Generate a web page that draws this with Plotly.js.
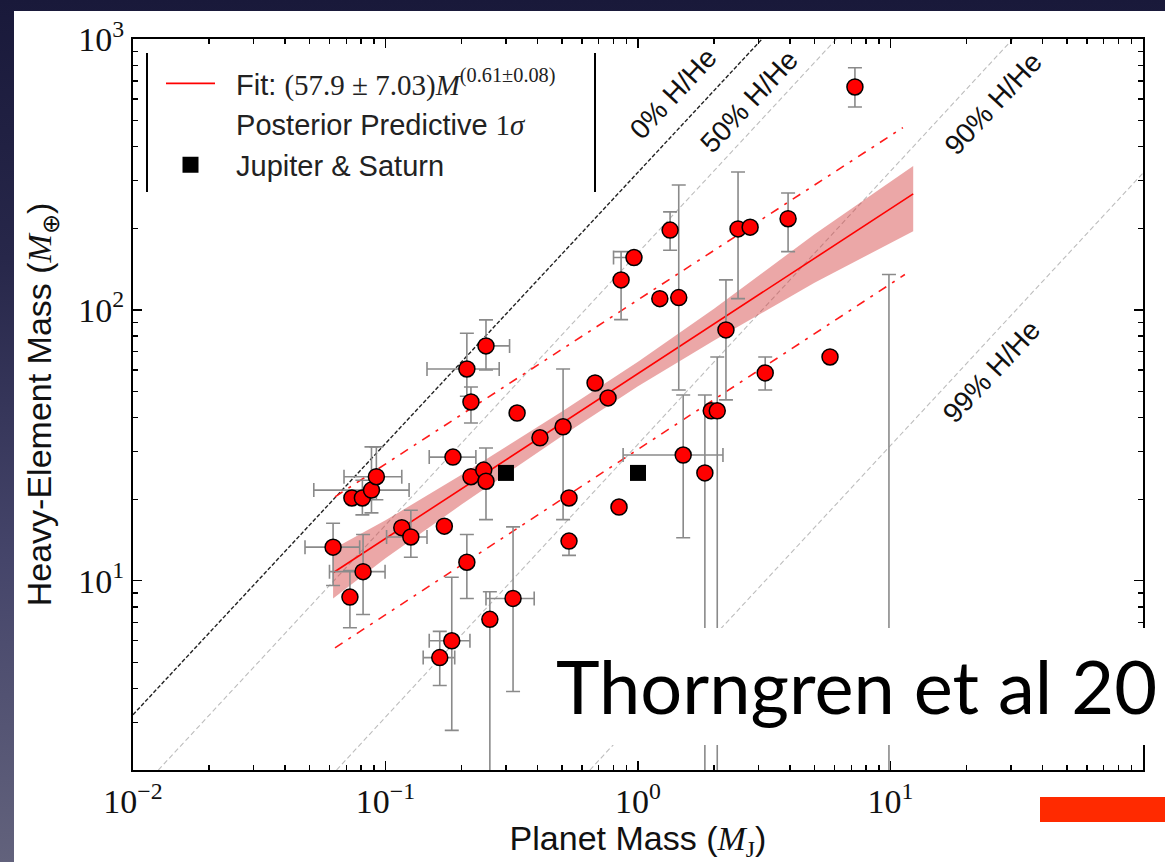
<!DOCTYPE html>
<html><head><meta charset="utf-8">
<script src="https://cdn.plot.ly/plotly-3.0.1.min.js"></script>
<style>
html,body{margin:0;padding:0;width:1165px;height:862px;overflow:hidden;
background:linear-gradient(180deg,#19193a 0%,#27274a 30%,#45456a 65%,#62627c 100%);}
#chart{width:1165px;height:862px;}
</style></head><body><div id="chart"></div>
<script>
// ---- reference lines (H/He fractions) ----
const h0X = [0.01, 3.1],    h0Y = [3.2, 1000];
const h50X = [0.0126, 6.1], h50Y = [2, 1000];
const h90X = [0.064, 30.5], h90Y = [2, 1000];
const h99X = [0.645, 100],  h99Y = [2, 320];
const hLabels = ['0% H/He', '50% H/He', '90% H/He', '99% H/He'];
const hLabelX = [1.38, 2.75, 25.5, 25.2];
const hLabelY = [630, 590, 580, 59];

// ---- fit and uncertainty band ----
const fitX = [0.062, 12.3], fitY = [10.7, 268];
const bandX  = [0.062, 0.1, 0.2, 0.5, 1, 2, 5, 12.3];
const bandHi = [13.1, 16.7, 24.6, 42.1, 64.3, 101, 190, 340];
const bandLo = [8.6, 12.1, 19.1, 34.2, 52.2, 77, 126, 195];
const ppUpX = [0.0631, 11.2], ppUpY = [20.4, 471];
const ppLoX = [0.0631, 11.4], ppLoY = [5.65, 135];

// ---- planets ----
const ptX = [0.062,0.0736,0.081,0.088,0.092,0.0815,0.0723,0.183,0.164,0.259,0.320,0.116,0.126,0.171,0.210,0.185,0.218,0.245,0.250,0.210,0.250,0.218,0.332,0.409,0.505,0.676,0.533,0.533,0.761,0.857,0.964,1.22,1.34,1.45,1.51,1.84,1.95,2.06,2.23,2.49,2.78,3.93,3.19,5.76,7.23,0.841,9.86];
const ptY = [13.3,20.2,20.2,21.6,24.2,10.8,8.7,6.0,5.2,7.2,8.6,15.7,14.5,15.9,11.7,28.6,24.2,25.6,23.3,60.5,73.6,45.7,41.6,33.7,37.0,53.7,20.2,14.0,47.3,129,156,110,197,111,29.1,25.0,42.4,42.4,84.3,199,202,217,58.5,67,665,18.7,5.0];
const yHi = [16.3,null,23.5,31.2,31.2,14.8,10.9,10.3,6.5,9.1,15.8,null,18.2,null,14.8,null,null,null,30.9,82,91.8,51.9,null,null,60.5,null,null,null,null,164,null,null,230,289,48.5,48.5,null,67,129,323,null,270,67,null,783,null,135];
const yLo = [9.6,null,17.5,17.8,19.9,7.5,6.7,2.8,4.1,1.0,3.9,null,12.2,null,8.6,null,null,null,16.8,48,60,38.2,null,null,16.8,null,null,12.4,null,92,null,null,166,50.6,14.4,1.0,null,1.0,46.5,110,null,164,50.6,null,561,null,1.0];
const xHi = [0.079,null,null,0.124,0.116,0.0996,null,0.216,0.188,null,0.388,null,0.146,null,null,0.228,null,null,null,0.282,0.31,null,null,null,null,null,null,null,null,null,null,null,null,null,2.17,null,null,null,null,null,null,null,null,null,null,null,null];
const xLo = [0.048,null,null,0.052,0.0685,0.060,null,0.149,0.141,null,0.250,null,0.101,null,null,0.149,null,null,null,0.146,null,null,null,null,null,null,null,null,null,null,0.80,null,null,null,0.873,null,null,null,null,null,null,null,null,null,null,null,null];
const jsX = [1.0, 0.30], jsY = [25, 25];

// ---- ticks ----
const xTickVals = [0.01, 0.1, 1, 10, 100];
const xTickText = ['10<sup>\u22122</sup>','10<sup>\u22121</sup>','10<sup>0</sup>','10<sup>1</sup>','10<sup>2</sup>'];
const yTickVals = [10, 100, 1000];
const yTickText = ['10<sup>1</sup>','10<sup>2</sup>','10<sup>3</sup>'];

const minorX = [], minorY = [];
for (let e = -2; e < 2; e++) for (let d = 2; d < 10; d++) minorX.push(d * Math.pow(10, e));
for (let e = 0; e < 3; e++) for (let d = 2; d < 10; d++) minorY.push(d * Math.pow(10, e));

const diff = (hi, base) => hi.map((v, i) => v == null ? 0 : v - base[i]);
const diffLo = (lo, base) => lo.map((v, i) => v == null ? 0 : base[i] - v);

const pad = '\u00a0\u00a0';
const grayDash = {color:'#bdbdbd', width:1.1, dash:'5px,3px'};
const traces = [
  {x:h0X, y:h0Y, mode:'lines', line:{color:'#222', width:1.4, dash:'4px,2px'}, showlegend:false, hoverinfo:'skip'},
  {x:h50X, y:h50Y, mode:'lines', line:grayDash, showlegend:false, hoverinfo:'skip'},
  {x:h90X, y:h90Y, mode:'lines', line:grayDash, showlegend:false, hoverinfo:'skip'},
  {x:h99X, y:h99Y, mode:'lines', line:grayDash, showlegend:false, hoverinfo:'skip'},
  {x:bandX, y:bandLo, mode:'lines', line:{width:0, color:'rgba(0,0,0,0)'}, showlegend:false, hoverinfo:'skip'},
  {x:bandX, y:bandHi, mode:'lines', line:{width:0, color:'rgba(0,0,0,0)'}, fill:'tonexty', fillcolor:'rgba(210,60,60,0.45)', showlegend:false, hoverinfo:'skip'},
  {x:fitX, y:fitY, mode:'lines', line:{color:'#ff0000', width:1.6},
   name:pad + 'Fit: <span style="font-family:Liberation Serif">(57.9 \u00b1 7.03)<i>M</i><sup>(0.61\u00b10.08)</sup></span>', legendrank:1},
  {x:ppUpX, y:ppUpY, mode:'lines', line:{color:'#ff1a1a', width:1.6, dash:'9px,7px,3px,7px'}, showlegend:false, hoverinfo:'skip'},
  {x:ppLoX, y:ppLoY, mode:'lines', line:{color:'#ff1a1a', width:1.6, dash:'9px,7px,3px,7px'}, showlegend:false, hoverinfo:'skip'},
  {x:[null], y:[null], mode:'lines', line:{width:0, color:'rgba(0,0,0,0)'},
   name:pad + 'Posterior Predictive <span style="font-family:Liberation Serif">1<i>\u03c3</i></span>', legendrank:2},
  {x:ptX, y:ptY, mode:'markers', showlegend:false,
   marker:{color:'#ff0000', size:16, line:{color:'#000', width:1.5}},
   error_y:{type:'data', symmetric:false, array:diff(yHi, ptY), arrayminus:diffLo(yLo, ptY), color:'#8a8a8a', thickness:1.6, width:7},
   error_x:{type:'data', symmetric:false, array:diff(xHi, ptX), arrayminus:diffLo(xLo, ptX), color:'#8a8a8a', thickness:1.6, width:7}},
  {x:jsX, y:jsY, mode:'markers', marker:{symbol:'square', color:'#000', size:16}, name:pad + 'Jupiter & Saturn', legendrank:3}
];

const annotations = hLabels.map((t, i) => ({
  x: Math.log10(hLabelX[i]), y: Math.log10(hLabelY[i]), xref:'x', yref:'y',
  text: t, showarrow:false, textangle:-47,
  font:{family:'Liberation Sans', size:28, color:'#111'}
}));
annotations.push({
  xref:'paper', yref:'paper', x:(554-133)/1010, y:(770-685)/731, xanchor:'left', yanchor:'middle',
  text:'Thorngren et al 20', showarrow:false,
  font:{family:'Lato', size:74, color:'#000'}
});

const P = (px) => (px - 133) / 1010, Q = (py) => (770 - py) / 731;
const shapes = [
  {type:'rect', xref:'paper', yref:'paper', x0:P(14), x1:1.1, y0:-0.2, y1:Q(11), fillcolor:'#ffffff', line:{width:0}, layer:'below'},
  {type:'line', xref:'paper', yref:'paper', x0:P(147), x1:P(147), y0:Q(53), y1:Q(192), line:{color:'#000', width:2}},
  {type:'line', xref:'paper', yref:'paper', x0:P(595), x1:P(595), y0:Q(53), y1:Q(192), line:{color:'#000', width:2}},
  {type:'rect', xref:'paper', yref:'paper', x0:P(548), x1:1.1, y0:Q(745), y1:Q(628), fillcolor:'#ffffff', line:{width:0}, layer:'above'},
  {type:'rect', xref:'paper', yref:'paper', x0:P(1040), x1:1.1, y0:Q(822), y1:Q(797), fillcolor:'#ff2a00', line:{width:0}, layer:'above'}
];

const axisCommon = {
  type:'log', showgrid:false, zeroline:false, showline:true, linecolor:'#000', linewidth:2,
  mirror:'allticks', ticks:'inside', ticklen:9, tickwidth:1.5, tickcolor:'#000',
  tickmode:'array', tickfont:{family:'Liberation Serif', size:34, color:'#111'},
  automargin:false
};

const layout = {
  width:1165, height:862,
  margin:{l:133, r:22, t:39, b:92},
  paper_bgcolor:'rgba(0,0,0,0)', plot_bgcolor:'#ffffff',
  showlegend:true,
  legend:{x:P(161), y:Q(58), xanchor:'left', yanchor:'top', bgcolor:'rgba(0,0,0,0)', borderwidth:0,
          traceorder:'normal',
          font:{family:'Liberation Sans', size:29, color:'#222'}, itemwidth:49, tracegroupgap:0},
  xaxis:Object.assign({}, axisCommon, {range:[-2, 2], tickvals:xTickVals, ticktext:xTickText,
    minor:{tickmode:'array', tickvals:minorX, ticks:'inside', ticklen:5, tickwidth:1.2, tickcolor:'#000', showgrid:false},
    title:{text:'Planet Mass (<span style="font-family:Liberation Serif"><i>M</i><sub>J</sub></span>)', font:{family:'Liberation Sans', size:34, color:'#111'}, standoff:10}}),
  yaxis:Object.assign({}, axisCommon, {range:[Math.log10(2), 3], tickvals:yTickVals, ticktext:yTickText,
    minor:{tickmode:'array', tickvals:minorY, ticks:'inside', ticklen:5, tickwidth:1.2, tickcolor:'#000', showgrid:false},
    title:{text:'Heavy-Element Mass (<span style="font-family:Liberation Serif"><i>M</i><sub>\u2295</sub></span>)', font:{family:'Liberation Sans', size:34, color:'#111'}, standoff:16}}),
  annotations:annotations,
  shapes:shapes
};

Plotly.newPlot('chart', traces, layout, {displayModeBar:false, staticPlot:true});
</script></body></html>
